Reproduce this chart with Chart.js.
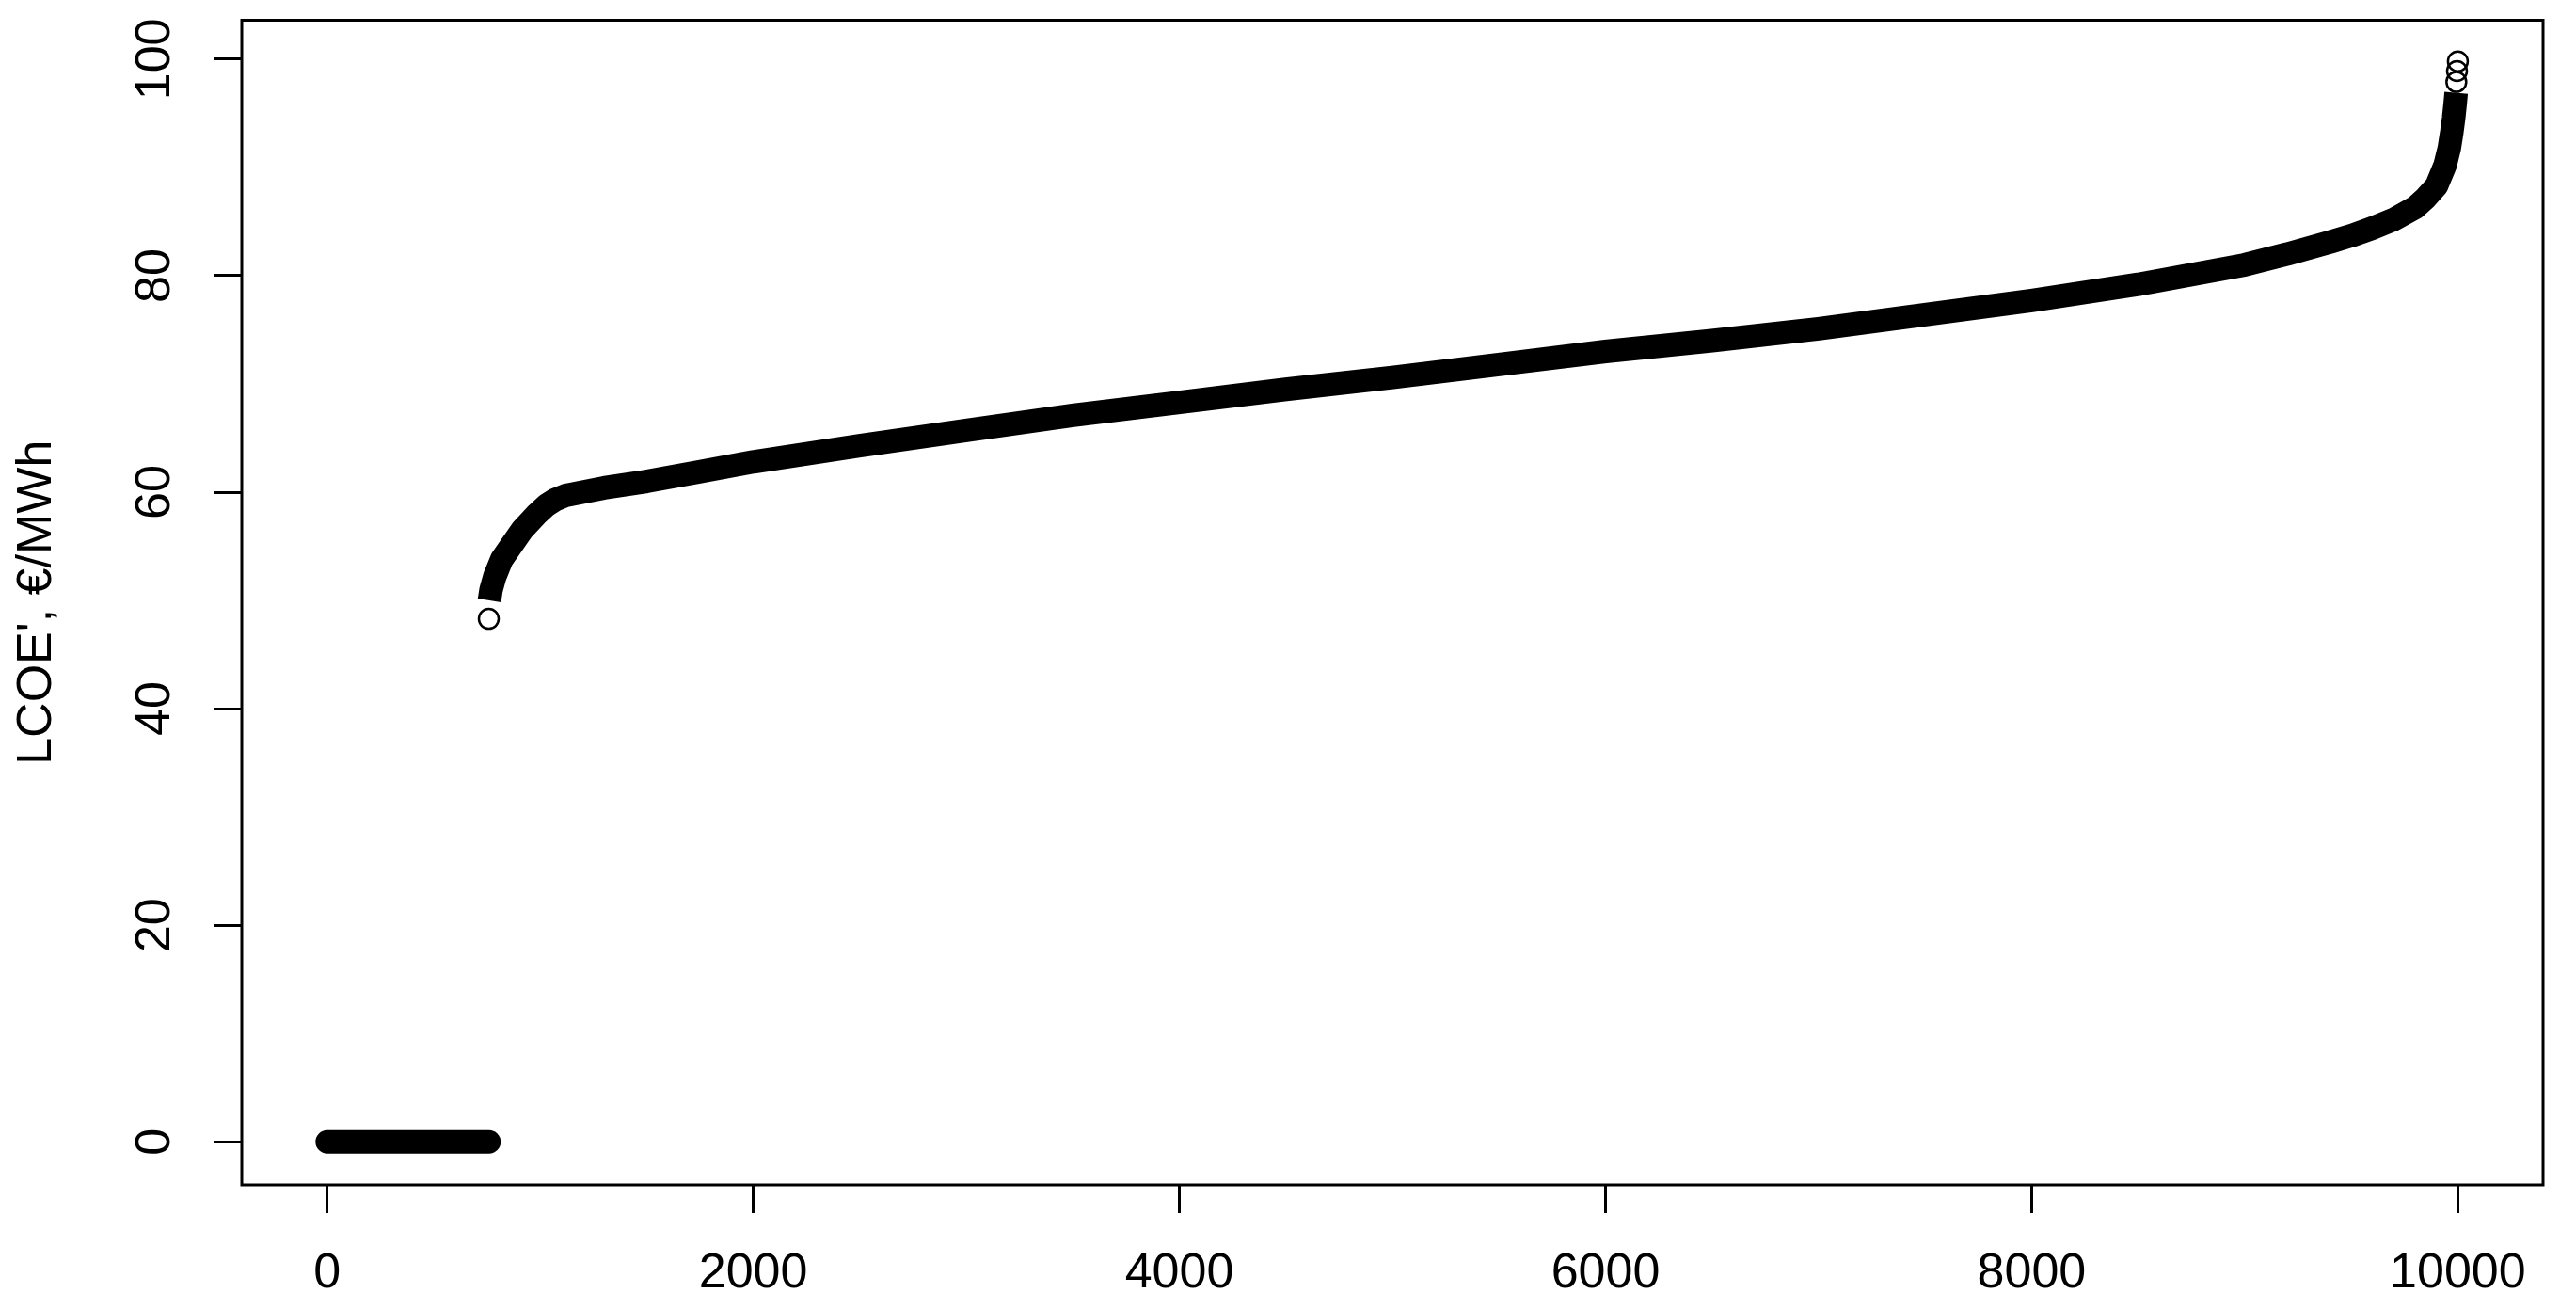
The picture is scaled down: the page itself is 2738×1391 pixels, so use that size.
<!DOCTYPE html>
<html>
<head>
<meta charset="utf-8">
<script src="https://cdn.jsdelivr.net/npm/chart.js@4.4.1/dist/chart.umd.min.js"></script>
<style>
  html, body { margin: 0; padding: 0; background: #fff; }
  #wrap { width: 2738px; height: 1391px; }
</style>
</head>
<body>
<div id="wrap"><canvas id="lcoeChart" width="2738" height="1391"></canvas></div>
<script>
// sorted LCOE' per simulation run (index -> €/MWh)
const zeroRuns = [1, 760];
const zeroValues = [0, 0];

const curveRuns = [762, 770, 787, 820, 862, 915, 981, 1030, 1070, 1120, 1300, 1500, 1750, 2000,
  2500, 3000, 3500, 4000, 4500, 5000, 5500, 6000, 6500, 7000, 7500, 8000, 8500, 9000, 9200,
  9400, 9500, 9600, 9700, 9800, 9850, 9900, 9940, 9960, 9972, 9980, 9988, 9992];
const curveValues = [50.0, 51.0, 52.2, 53.8, 55.0, 56.5, 57.9, 58.8, 59.3, 59.7, 60.4, 61.0, 61.9, 62.8,
  64.3, 65.7, 67.1, 68.3, 69.5, 70.6, 71.8, 73.0, 74.0, 75.1, 76.4, 77.7, 79.2, 81.0, 82.0,
  83.1, 83.7, 84.4, 85.2, 86.3, 87.2, 88.3, 90.2, 91.8, 93.3, 94.5, 96.0, 96.9];

// isolated circles at the ends of the curve
const loneRuns = [759, 9993, 9996, 10000];
const loneValues = [48.3, 97.9, 98.9, 99.8];

const xTicks = [0, 2000, 4000, 6000, 8000, 10000];
const yTicks = [0, 20, 40, 60, 80, 100];
const yTitle = "LCOE', €/MWh";

const FONT = "'Liberation Sans', Arial, sans-serif";

const pairs = (xs, ys) => xs.map((x, i) => ({ x: x, y: ys[i] }));

// R style: closed box round the plot and y tick labels turned upright
const rBox = {
  id: 'rBox',
  afterDraw(chart) {
    const { ctx, chartArea: a } = chart;
    ctx.save();
    ctx.strokeStyle = '#000';
    ctx.lineWidth = 3;
    ctx.strokeRect(a.left, a.top, a.right - a.left, a.bottom - a.top);

    const y = chart.scales.y;
    ctx.fillStyle = '#000';
    ctx.font = '52px ' + FONT;
    ctx.textAlign = 'center';
    ctx.textBaseline = 'middle';
    y.ticks.forEach(t => {
      ctx.save();
      ctx.translate(166, y.getPixelForValue(t.value));
      ctx.rotate(-Math.PI / 2);
      ctx.fillText(String(t.value), 0, 0);
      ctx.restore();
    });
    ctx.restore();
  }
};

new Chart(document.getElementById('lcoeChart'), {
  type: 'scatter',
  data: {
    datasets: [
      {
        data: pairs(zeroRuns, zeroValues),
        showLine: true,
        borderColor: '#000',
        borderWidth: 25,
        borderCapStyle: 'round',
        pointRadius: 0
      },
      {
        data: pairs(curveRuns, curveValues),
        showLine: true,
        borderColor: '#000',
        borderWidth: 25,
        borderCapStyle: 'butt',
        borderJoinStyle: 'round',
        pointRadius: 0
      },
      {
        data: pairs(loneRuns, loneValues),
        showLine: false,
        pointRadius: 10.5,
        pointBorderWidth: 2.5,
        pointBorderColor: '#000',
        pointBackgroundColor: 'rgba(0,0,0,0)'
      }
    ]
  },
  options: {
    responsive: false,
    devicePixelRatio: 1,
    animation: false,
    layout: { padding: { top: 21.5, right: 35, left: 0, bottom: 0 } },
    plugins: { legend: { display: false }, tooltip: { enabled: false } },
    scales: {
      x: {
        type: 'linear',
        min: -400,
        max: 10400,
        afterBuildTicks: s => { s.ticks = xTicks.map(v => ({ value: v })); },
        afterFit: s => { s.height = 132; s.paddingLeft = 0; s.paddingRight = 0; },
        grid: { drawOnChartArea: false, drawTicks: true, tickLength: 30, tickWidth: 3, tickColor: '#000' },
        border: { display: false },
        ticks: {
          color: '#000', font: { family: FONT, size: 52 }, padding: 33, maxRotation: 0, autoSkip: false,
          callback: v => String(v)
        }
      },
      y: {
        min: -3.98,
        max: 103.6,
        afterBuildTicks: s => { s.ticks = yTicks.map(v => ({ value: v })); },
        afterFit: s => { s.width = 257; s.paddingTop = 0; s.paddingBottom = 0; },
        grid: { drawOnChartArea: false, drawTicks: true, tickLength: 30, tickWidth: 3, tickColor: '#000' },
        border: { display: false },
        ticks: { display: false },
        title: { display: true, text: yTitle, color: '#000', font: { family: FONT, size: 52 }, padding: { top: 8, bottom: 0 } }
      }
    }
  },
  plugins: [rBox]
});
</script>
</body>
</html>
